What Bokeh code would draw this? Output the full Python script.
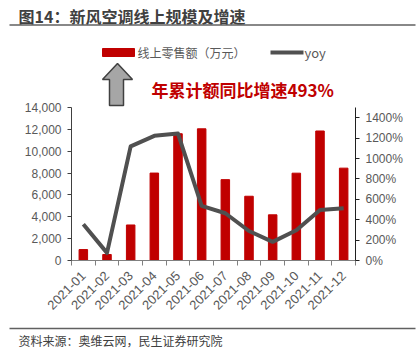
import math
from bokeh.plotting import figure
from bokeh.layouts import column, row
from bokeh.models import (Range1d, LinearAxis, FixedTicker, NumeralTickFormatter,
                          PrintfTickFormatter)
from bokeh.core.properties import value
from bokeh.embed import file_html
from bokeh.resources import INLINE

months = ["2021-01", "2021-02", "2021-03", "2021-04", "2021-05", "2021-06",
          "2021-07", "2021-08", "2021-09", "2021-10", "2021-11", "2021-12"]
sales = [1000, 550, 3250, 8000, 11600, 12050, 7400, 5880, 4180, 7990, 11850, 8450]
yoy = [355, 75, 1119, 1222, 1244, 535, 463, 289, 183, 296, 496, 512]
left_ticks = [0, 2000, 4000, 6000, 8000, 10000, 12000, 14000]
right_ticks = [0, 200, 400, 600, 800, 1000, 1200, 1400]

title_text = "图14：新风空调线上规模及增速"
source_text = "资料来源：奥维云网，民生证券研究院"
legend_bar = "线上零售额（万元）"
legend_line = "yoy"
note_text = "年累计额同比增速493%"

CJK = "Noto Sans CJK SC"
LAT = "Liberation Sans"
GRAY = "#595959"
RED = "#c00000"
W = 420


def strip(y0, y1):
    """A figure whose frame is the whole strip, ranges in page pixels."""
    f = figure(width=W, height=y1 - y0, output_backend="svg", toolbar_location=None,
               x_range=Range1d(0, W), y_range=Range1d(y1, y0),
               min_border=0, x_axis_location=None, y_axis_location=None)
    f.outline_line_color = None
    f.grid.visible = False
    return f


# ---- top strip: title ----
top = strip(0, 30)
top.text(x=[18], y=[15.5], text=[title_text], text_font=value(CJK), text_font_size="16px",
         text_font_style="bold", text_color="#404040", text_baseline="middle")
top.line(x=[9, 415], y=[24.5, 24.5], line_color="#606060", line_width=1.5)

# ---- main chart ----
F_TOP, F_BOT, H_MAIN = 30, 260, 290
F_LEFT, F_RIGHT = 71, 355
Y14 = 107  # page y of 14000 / 1500%
ymax = 14000 * (F_BOT - F_TOP) / (F_BOT - Y14)
rmax = 1500 * (F_BOT - F_TOP) / (F_BOT - Y14)

xs = [i + 0.5 for i in range(len(months))]

p = figure(width=W, height=H_MAIN, output_backend="svg", toolbar_location=None,
           x_range=Range1d(0, 12), y_range=Range1d(0, ymax),
           min_border_left=F_LEFT, min_border_right=W - F_RIGHT, min_border_top=0,
           min_border_bottom=H_MAIN - (F_BOT - F_TOP),
           x_axis_location=None, y_axis_location=None)
p.outline_line_color = None
p.grid.visible = False
p.extra_y_ranges = {"yoy": Range1d(0, rmax), "py": Range1d(F_BOT, F_TOP)}
p.extra_x_ranges = {"px": Range1d(F_LEFT, F_RIGHT)}

p.vbar(x=xs, top=sales, width=0.36, color=RED)
p.line(x=xs, y=yoy, y_range_name="yoy", line_color="#505050", line_width=4,
       line_join="round")

xaxis = LinearAxis(ticker=FixedTicker(ticks=xs, minor_ticks=list(range(13))),
                   major_label_overrides={x: m for x, m in zip(xs, months)})
xaxis.major_label_orientation = math.pi / 4
xaxis.major_tick_out = 0
xaxis.major_tick_in = 0
xaxis.minor_tick_out = 5
xaxis.minor_tick_in = 0
xaxis.minor_tick_line_color = "#808080"
xaxis.axis_line_color = "#808080"
xaxis.major_label_text_font = LAT
xaxis.major_label_text_font_size = "13px"
xaxis.major_label_text_color = GRAY
xaxis.major_label_standoff = 8
p.add_layout(xaxis, "below")

yl = LinearAxis(ticker=FixedTicker(ticks=left_ticks),
                formatter=NumeralTickFormatter(format="0,0"), bounds=(0, 14000))
yl.major_tick_out = 4
yl.major_tick_in = 0
yl.minor_tick_out = 0
yl.axis_line_color = "#404040"
yl.major_tick_line_color = "#404040"
yl.major_label_text_font = LAT
yl.major_label_text_font_size = "12px"
yl.major_label_text_color = GRAY
yl.major_label_standoff = 6
p.add_layout(yl, "left")

yr = LinearAxis(y_range_name="yoy", ticker=FixedTicker(ticks=right_ticks),
                formatter=PrintfTickFormatter(format="%d%%"), bounds=(0, 1500))
yr.major_tick_out = 4
yr.major_tick_in = 0
yr.minor_tick_out = 0
yr.axis_line_color = "#202020"
yr.major_tick_line_color = "#202020"
yr.major_label_text_font = LAT
yr.major_label_text_font_size = "12px"
yr.major_label_text_color = GRAY
yr.major_label_standoff = 6
p.add_layout(yr, "right")

# legend (page-pixel coordinates)
p.quad(left=[102], right=[134], top=[48], bottom=[56], color=RED,
       x_range_name="px", y_range_name="py")
p.text(x=[137], y=[52], text=[legend_bar], text_font=value(CJK), text_font_size="12px",
       text_color=GRAY, text_baseline="middle", x_range_name="px", y_range_name="py")
p.line(x=[270, 303], y=[52, 52], line_color="#505050", line_width=4,
       x_range_name="px", y_range_name="py")
p.text(x=[304], y=[52], text=[legend_line], text_font=value(CJK), text_font_size="13px",
       text_color=GRAY, text_baseline="middle", x_range_name="px", y_range_name="py")

# arrow + note
arrow_x = [102, 117, 132, 123, 123, 109, 109]
arrow_y = [79, 63, 79, 79, 105, 105, 79]
p.patch(x=arrow_x, y=arrow_y, fill_color="#a6a6a6", line_color="#404040", line_width=1.5,
        x_range_name="px", y_range_name="py")
p.text(x=[151], y=[89], text=[note_text], text_font=value(CJK), text_font_size="17px",
       text_font_style="bold", text_color=RED, text_baseline="middle",
       x_range_name="px", y_range_name="py")

# ---- bottom strip: source ----
bot = strip(30 + H_MAIN, 363)
bot.line(x=[9, 415], y=[328, 328], line_color="#606060", line_width=1.5)
bot.text(x=[18], y=[340], text=[source_text], text_font=value(CJK), text_font_size="12px",
         text_color="#404040", text_baseline="middle")

layout = column(row(top), p, row(bot), spacing=0)
open("out.html", "w").write(file_html(layout, INLINE))
